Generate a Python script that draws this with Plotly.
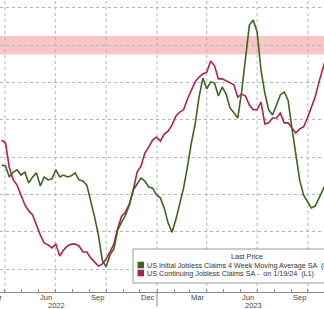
import pandas as pd
import plotly.graph_objects as go

# ---------------- data ----------------
week_start = "2022-03-26"

# US Continuing Jobless Claims SA (thousands) - left axis
continuing_claims_k = [
    1646, 1638, 1571, 1539, 1525, 1499, 1472, 1456, 1445, 1418,
    1391, 1370, 1365, 1357, 1367, 1335, 1351, 1362, 1367, 1367,
    1362, 1346, 1346, 1330, 1319, 1308, 1314, 1327, 1346, 1367,
    1410, 1442, 1453, 1475, 1512, 1560, 1576, 1611, 1627, 1646,
    1654, 1643, 1662, 1670, 1686, 1710, 1721, 1727, 1756, 1777,
    1802, 1815, 1823, 1828, 1858, 1845, 1810, 1810, 1804, 1799,
    1794, 1761, 1769, 1764, 1740, 1727, 1727, 1748, 1689, 1692,
    1705, 1705, 1718, 1692, 1692, 1678, 1665, 1676, 1681, 1705,
    1735, 1761, 1802, 1842, 1874,
]

# US Initial Jobless Claims 4 Week Moving Average SA (thousands) - right axis
initial_claims_4wk_k = [
    217.9, 217.6, 214.7, 216.0, 216.6, 215.2, 216.0, 213.1, 214.7, 215.8,
    212.3, 214.7, 213.9, 214.2, 216.6, 214.7, 215.2, 214.7, 215.0, 215.8,
    213.9, 213.6, 212.5, 208.5, 204.0, 199.1, 192.4, 190.6, 193.8, 195.4,
    200.5, 202.6, 204.5, 207.2, 211.2, 212.8, 214.4, 213.6, 212.0, 211.7,
    209.9, 209.1, 206.4, 202.4, 199.9, 203.2, 207.2, 211.7, 217.4, 223.8,
    228.9, 236.1, 241.2, 238.3, 240.2, 239.9, 236.4, 238.8, 236.9, 233.2,
    231.9, 230.5, 237.5, 247.4, 255.4, 256.8, 253.6, 243.4, 237.2, 232.7,
    231.3, 234.0, 236.7, 237.5, 235.3, 227.8, 220.1, 213.9, 209.9, 208.0,
    206.4, 206.9, 209.1, 211.2, 213.4,
]

series_names = [
    "US Initial Jobless Claims 4 Week Moving Average SA  (R1)",
    "US Continuing Jobless Claims SA -  on 1/19/24  (L1)",
]
series_colors = ["#3d6421", "#ac234a"]

month_label_dates = ["2022-03-15", "2022-06-15", "2022-09-15", "2022-12-15",
                     "2023-03-15", "2023-06-15", "2023-09-15"]
month_labels = ["Mar", "Jun", "Sep", "Dec", "Mar", "Jun", "Sep"]
year_label_dates = ["2022-07-04", "2023-06-24"]
year_labels = ["2022", "2023"]
quarter_grid_dates = ["2022-04-01", "2022-07-01", "2022-10-01", "2023-01-01",
                      "2023-04-01", "2023-07-01", "2023-10-01"]
year_break_date = "2023-01-01"
band_range_k = [1875, 1925]
left_grid_k = [1300, 1400, 1500, 1600, 1700, 1800, 1900, 2000]

x_range = ["2022-03-23", "2023-10-30"]
left_range = [1238.6, 2021.4]
right_range = [183.86, 262.14]

dates = pd.date_range(week_start, periods=len(continuing_claims_k), freq="7D")
month_starts = pd.date_range("2022-04-01", "2023-11-01", freq="MS")

x0_ts, x1_ts = pd.Timestamp(x_range[0]), pd.Timestamp(x_range[1])
def date_to_paper(d):
    return (pd.Timestamp(d) - x0_ts) / (x1_ts - x0_ts)

# ---------------- figure ----------------
fig = go.Figure()
fig.add_trace(go.Scatter(
    x=dates, y=continuing_claims_k, mode="lines", name=series_names[1],
    line=dict(color=series_colors[1], width=1.6), yaxis="y",
))
fig.add_trace(go.Scatter(
    x=dates, y=initial_claims_4wk_k, mode="lines", name=series_names[0],
    line=dict(color=series_colors[0], width=1.6), yaxis="y2",
))

shapes = []
shapes.append(dict(type="rect", xref="paper", x0=0, x1=1, yref="y",
                   y0=band_range_k[0], y1=band_range_k[1],
                   fillcolor="#f9c6c6", line=dict(width=0), layer="below"))
for d in quarter_grid_dates:
    shapes.append(dict(type="line", xref="x", x0=d, x1=d, yref="paper", y0=0, y1=1,
                       line=dict(color="#b4b4b4", width=1, dash="dot"), layer="below"))
shapes.append(dict(type="line", xref="x", x0=year_break_date, x1=year_break_date,
                   yref="paper", y0=0, y1=-0.05, line=dict(color="#8a8a8a", width=1)))

PH = 292.0
def py(pix):
    return (PH - pix) / PH

shapes.append(dict(type="rect", xref="paper", yref="paper",
                   x0=133 / 324, x1=1.05, y0=py(283), y1=py(249),
                   fillcolor="white", line=dict(color="#9a9a9a", width=1), layer="above"))
for i, yy in enumerate([265, 273]):
    shapes.append(dict(type="rect", xref="paper", yref="paper",
                       x0=137.5 / 324, x1=144 / 324, y0=py(yy + 3.3), y1=py(yy - 3.3),
                       fillcolor=series_colors[i], line=dict(width=0), layer="above"))

annotations = []
font_tick = dict(family="Liberation Sans, Arial, sans-serif", size=7.5, color="#444444")
for d, t in zip(month_label_dates, month_labels):
    annotations.append(dict(x=date_to_paper(d), xref="paper", y=py(297.5), yref="paper",
                            text=t, showarrow=False, xanchor="center", yanchor="middle",
                            font=font_tick))
for d, t in zip(year_label_dates, year_labels):
    annotations.append(dict(x=date_to_paper(d), xref="paper", y=py(305), yref="paper",
                            text=t, showarrow=False, xanchor="center", yanchor="middle",
                            font=font_tick))

font_leg = dict(family="Liberation Sans, Arial, sans-serif", size=7.2, color="#333333")
annotations.append(dict(x=247 / 324, xref="paper", y=py(256.5), yref="paper",
                        text="Last Price", showarrow=False, xanchor="center",
                        yanchor="middle", font=font_leg))
for i, yy in enumerate([265, 273]):
    annotations.append(dict(x=145 / 324, xref="paper", y=py(yy), yref="paper",
                            text=series_names[i], showarrow=False, xanchor="left",
                            yanchor="middle", font=font_leg))

fig.update_layout(
    width=324, height=309,
    margin=dict(l=0, r=0, t=0, b=17, pad=0),
    paper_bgcolor="white", plot_bgcolor="white",
    showlegend=False,
    shapes=shapes, annotations=annotations,
    xaxis=dict(range=x_range, type="date", showgrid=False, zeroline=False,
               showline=True, linecolor="#8a8a8a", linewidth=1,
               tickmode="array", tickvals=month_starts, ticks="inside",
               ticklen=3, tickcolor="#8a8a8a", showticklabels=False),
    yaxis=dict(range=left_range, showgrid=True, gridcolor="#b4b4b4", griddash="dot",
               gridwidth=1, tickmode="array", tickvals=left_grid_k,
               showticklabels=False, ticks="", zeroline=False, showline=False),
    yaxis2=dict(range=right_range, overlaying="y", side="right", showgrid=False,
                showticklabels=False, ticks="", zeroline=False, showline=False),
)

fig.write_html("out.html")
